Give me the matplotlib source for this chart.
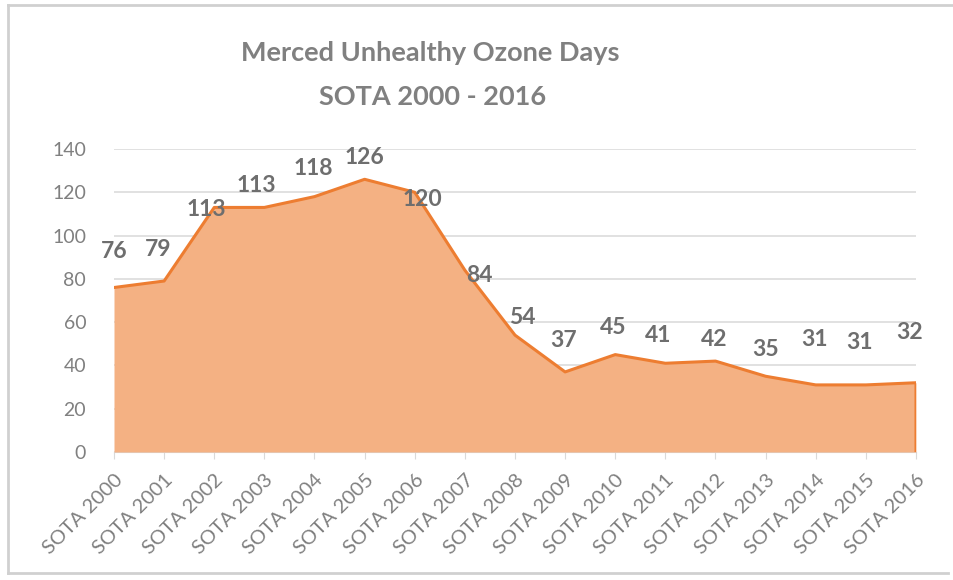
import matplotlib
matplotlib.use("Agg")
import matplotlib.pyplot as plt
from matplotlib.lines import Line2D

plt.rcParams["font.family"] = ["Lato", "DejaVu Sans"]

categories = ["SOTA 2000", "SOTA 2001", "SOTA 2002", "SOTA 2003", "SOTA 2004",
              "SOTA 2005", "SOTA 2006", "SOTA 2007", "SOTA 2008", "SOTA 2009",
              "SOTA 2010", "SOTA 2011", "SOTA 2012", "SOTA 2013", "SOTA 2014",
              "SOTA 2015", "SOTA 2016"]
days = [76, 79, 113, 113, 118, 126, 120, 84, 54, 37, 45, 41, 42, 35, 31, 31, 32]
y_ticks = [0, 20, 40, 60, 80, 100, 120, 140]

# where each data label sits relative to its point (pixels), as in the original
label_dx = [0, -6, -8, -8, -1, 0, 8, 15, 7, -2, -2, -7, -1, 0, -1, -6, -6]
label_dy = [36, 32, -2, 22, 28, 22, -7, -5, 18, 31, 27, 28, 22, 27, 45, 42, 50]

FILL = "#F4B183"
LINE = "#ED7D31"
GRID = "#D9D9D9"
TXT = "#808080"
LBL = "#6E6E6E"

fig = plt.figure(figsize=(9.54, 5.8), dpi=100)
ax = fig.add_axes([114 / 954, 1 - 452 / 580, 802 / 954, 303 / 580])

x = list(range(len(days)))
ax.fill_between(x, days, 0, color=FILL, zorder=2, linewidth=0)
ax.plot(x + [x[-1]], days + [0], color=LINE, linewidth=2.2, zorder=3,
        solid_joinstyle="round")

ax.set_xlim(0, len(days) - 1)
ax.set_ylim(0, 140)
ax.set_yticks(y_ticks)
ax.set_xticks(x)
ax.set_xticklabels(categories, rotation=45, ha="right", va="top",
                   rotation_mode="anchor")
ax.grid(axis="y", color=GRID, linewidth=1.1, zorder=0)
ax.set_axisbelow(True)
for s in ["top", "right", "left"]:
    ax.spines[s].set_visible(False)
ax.spines["bottom"].set_color(GRID)
ax.spines["bottom"].set_zorder(1)
ax.tick_params(axis="y", length=0, pad=20, labelsize=14, labelcolor=TXT)
ax.tick_params(axis="x", length=5, color=GRID, pad=9, labelsize=14.5,
               labelcolor=TXT)

for i, v in enumerate(days):
    ax.annotate(str(v), (i, v), xytext=(label_dx[i], label_dy[i]),
                textcoords="offset pixels", ha="center", va="center",
                fontsize=16.5, fontweight="bold", color=LBL, zorder=4)

fig.text(430 / 954, 1 - 53 / 580, "Merced Unhealthy Ozone Days",
         ha="center", va="center", fontsize=19.5, fontweight="bold", color=TXT)
fig.text(433 / 954, 1 - 97 / 580, "SOTA 2000 - 2016",
         ha="center", va="center", fontsize=19.5, fontweight="bold", color=TXT)

# chart frame (left, top and bottom edges visible in the screenshot)
for xs, ys in [([8, 8], [5, 573]), ([8, 954], [5, 5]), ([8, 948], [573, 573])]:
    fig.add_artist(Line2D([v / 954 for v in xs], [1 - v / 580 for v in ys],
                          color="#D0D0D0", linewidth=2))

fig.savefig("out.png", dpi=100)
